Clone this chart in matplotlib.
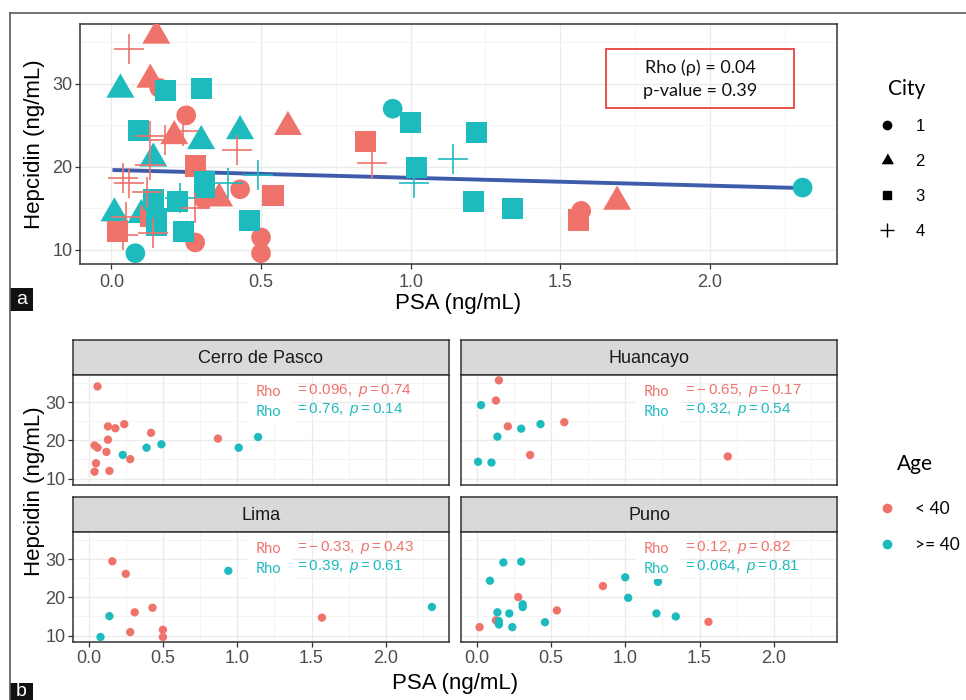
import numpy as np
import matplotlib
matplotlib.use("Agg")
import matplotlib.pyplot as plt
from matplotlib.lines import Line2D
from matplotlib.patches import Rectangle

plt.rcParams['font.family'] = ['Liberation Sans', 'DejaVu Sans']
plt.rcParams['mathtext.fontset'] = 'custom'
plt.rcParams['mathtext.rm'] = 'Liberation Sans'
plt.rcParams['mathtext.it'] = 'Liberation Sans:italic'

W, H = 966, 700
red = '#EF736B'
teal = '#1DBBBE'
calib = ['Lato', 'DejaVu Sans']

# city 1 = Lima, 2 = Huancayo, 3 = Puno, 4 = Cerro de Pasco
# old: 1 means age >= 40
lima_psa = [0.16, 0.25, 0.94, 0.43, 0.31, 0.14, 0.28, 0.50, 0.50, 0.08, 1.57, 2.31]
lima_hep = [29.5, 26.2, 27.0, 17.3, 16.1, 15.1, 10.9, 11.5, 9.6, 9.6, 14.7, 17.5]
lima_old = [0, 0, 1, 0, 0, 1, 0, 0, 0, 1, 0, 1]

huan_psa = [0.15, 0.13, 0.03, 0.21, 0.30, 0.43, 0.59, 0.14, 0.36, 0.01, 0.10, 1.69]
huan_hep = [35.8, 30.5, 29.3, 23.7, 23.1, 24.3, 24.8, 21.0, 16.2, 14.4, 14.2, 15.8]
huan_old = [0, 0, 1, 0, 1, 1, 0, 1, 0, 1, 1, 0]

puno_psa = [0.18, 0.30, 0.09, 1.00, 1.22, 0.85, 0.28, 1.02, 0.31, 0.31, 0.54,
            0.14, 0.22, 0.13, 0.15, 0.15, 1.21, 1.34, 0.46, 0.24, 0.02, 1.56]
puno_hep = [29.2, 29.4, 24.4, 25.3, 24.1, 23.0, 20.1, 19.9, 18.2, 17.5, 16.6,
            16.1, 15.8, 14.0, 13.8, 12.9, 15.8, 15.0, 13.5, 12.2, 12.2, 13.6]
puno_old = [1, 1, 1, 1, 1, 0, 0, 1, 1, 1, 0, 1, 1, 0, 1, 1, 1, 1, 1, 1, 0, 0]

cdp_psa = [0.06, 0.13, 0.18, 0.24, 0.13, 0.04, 0.06, 0.12, 0.23, 0.28, 0.05,
           0.04, 0.14, 0.42, 0.39, 0.49, 0.87, 1.01, 1.14]
cdp_hep = [34.2, 23.7, 23.2, 24.3, 20.2, 18.7, 18.1, 17.0, 16.2, 15.1, 14.0,
           11.8, 12.0, 22.0, 18.1, 19.0, 20.5, 18.1, 20.9]
cdp_old = [0, 0, 0, 0, 0, 0, 0, 0, 1, 0, 0, 0, 0, 0, 1, 1, 0, 1, 1]

cities = {
    1: (lima_psa, lima_hep, lima_old),
    2: (huan_psa, huan_hep, huan_old),
    3: (puno_psa, puno_hep, puno_old),
    4: (cdp_psa, cdp_hep, cdp_old),
}

# facets: name, city, rho labels (red, teal)
facets = [
    ('Cerro de Pasco', 4, r'$=0.096,\ p=0.74$', r'$=0.76,\ p=0.14$'),
    ('Huancayo', 2, r'$=-\,0.65,\ p=0.17$', r'$=0.32,\ p=0.54$'),
    ('Lima', 1, r'$=-\,0.33,\ p=0.43$', r'$=0.39,\ p=0.61$'),
    ('Puno', 3, r'$=0.12,\ p=0.82$', r'$=0.064,\ p=0.81$'),
]

fig = plt.figure(figsize=(W / 100, H / 100), dpi=100)


def box(x0, y0, x1, y1):
    return fig.add_axes([x0 / W, 1 - y1 / H, (x1 - x0) / W, (y1 - y0) / H])


def style(ax, xlab=True, ylab=True):
    ax.set_xlim(-0.105, 2.425)
    ax.set_ylim(8.3, 37.2)
    ax.set_xticks([0, 0.5, 1, 1.5, 2])
    ax.set_xticks([0.25, 0.75, 1.25, 1.75, 2.25], minor=True)
    ax.set_yticks([10, 20, 30])
    ax.set_yticks([15, 25, 35], minor=True)
    ax.grid(which='major', color='#EBEBEB', lw=1.0)
    ax.grid(which='minor', color='#F3F3F3', lw=0.6)
    ax.set_axisbelow(True)
    for s in ax.spines.values():
        s.set_color('#333333')
        s.set_linewidth(1.1)
    ax.tick_params(which='minor', length=0)
    ax.tick_params(which='major', length=3.5, width=0.9, color='#333333',
                   labelcolor='#4D4D4D', labelsize=13, pad=2)
    if not xlab:
        ax.tick_params(axis='x', which='major', length=0, labelbottom=False)
    if not ylab:
        ax.tick_params(axis='y', which='major', length=0, labelleft=False)


# ---- panel a ----
ax = box(80, 24, 837, 264)
style(ax)
ax.tick_params(axis='x', pad=4)

all_psa = np.concatenate([cities[c][0] for c in cities])
all_hep = np.concatenate([cities[c][1] for c in cities])
fit = np.polyfit(all_psa, all_hep, 1)
xs = np.array([all_psa.min(), all_psa.max()])
ax.plot(xs, np.polyval(fit, xs), color='#3F5CAB', lw=2.8, zorder=2)

tri = [(-1, -0.577), (1, -0.577), (0, 1.155)]
shapes = {1: ('o', 200), 2: (tri, 540), 3: ('s', 230), 4: ('+', 460)}
for c in [1, 2, 3, 4]:
    psa, hep, old = [np.array(v) for v in cities[c]]
    m, s = shapes[c]
    for flag, col in [(0, red), (1, teal)]:
        sel = old == flag
        if c == 4:
            ax.scatter(psa[sel], hep[sel], marker=m, s=s, color=col,
                       linewidths=1.2, zorder=3 + c)
        else:
            ax.scatter(psa[sel], hep[sel], marker=m, s=s, color=col,
                       edgecolors='none', zorder=3 + c)

fig.add_artist(Rectangle((606 / W, 1 - 108 / H), 188 / W, 59 / H,
                         transform=fig.transFigure, fill=False,
                         edgecolor='#E8413B', lw=1.3))
fig.text(700 / W, 1 - 68 / H, 'Rho (ρ) = 0.04', ha='center', va='center',
         fontsize=13, family=calib, color='#111111')
fig.text(700 / W, 1 - 91 / H, 'p-value = 0.39', ha='center', va='center',
         fontsize=13, family=calib, color='#111111')

fig.text(35 / W, 1 - 144 / H, 'Hepcidin (ng/mL)', rotation=90,
         ha='center', va='center', fontsize=16)
fig.text(458 / W, 1 - 303 / H, 'PSA (ng/mL)', ha='center', va='center',
         fontsize=16)

city_handles = [
    Line2D([], [], ls='', marker='o', color='black', ms=6),
    Line2D([], [], ls='', marker=tri, color='black', ms=9),
    Line2D([], [], ls='', marker='s', color='black', ms=6),
    Line2D([], [], ls='', marker='+', color='black', ms=10, mew=1.0),
]
fig.text(888 / W, 1 - 89 / H, 'City', ha='left', va='center', fontsize=15,
         family=calib)
fig.legend(city_handles, ['1', '2', '3', '4'],
           loc='upper left', bbox_to_anchor=(862 / W, 1 - 104 / H),
           frameon=False, fontsize=12, labelspacing=1.19,
           handlelength=1.2, handletextpad=1.1)

# ---- panel b ----
cols = [(73, 449), (461, 837)]
rows = [(340, 375, 485), (497, 532, 642)]
for i, (name, c, lab_r, lab_t) in enumerate(facets):
    r, k = divmod(i, 2)
    x0, x1 = cols[k]
    s0, p0, p1 = rows[r]
    st = box(x0, s0, x1, p0)
    st.set_facecolor('#D9D9D9')
    st.set_xticks([])
    st.set_yticks([])
    for s in st.spines.values():
        s.set_color('#333333')
        s.set_linewidth(1.1)
    st.text(0.5, 0.48, name, ha='center', va='center', fontsize=13,
            color='#1A1A1A', transform=st.transAxes)

    ax = box(x0, p0, x1, p1)
    style(ax, xlab=(r == 1), ylab=(k == 0))
    psa, hep, old = [np.array(v) for v in cities[c]]
    for flag, col in [(0, red), (1, teal)]:
        sel = old == flag
        ax.scatter(psa[sel], hep[sel], s=36, color=col, edgecolors='none',
                   zorder=3)
    ax.add_patch(Rectangle((0.463, 0.573), 0.122, 0.41,
                           transform=ax.transAxes, facecolor='white',
                           edgecolor='none', zorder=4))
    ax.text(0.487, 0.845, 'Rho', color=red, fontsize=10.5, family=calib,
            va='center', transform=ax.transAxes, zorder=5)
    ax.text(0.487, 0.66, 'Rho', color=teal, fontsize=10.5, family=calib,
            va='center', transform=ax.transAxes, zorder=5)
    ax.text(0.59, 0.86, lab_r, color=red, fontsize=11, va='center',
            transform=ax.transAxes, zorder=5)
    ax.text(0.59, 0.69, lab_t, color=teal, fontsize=11, va='center',
            transform=ax.transAxes, zorder=5)

fig.text(35 / W, 1 - 491 / H, 'Hepcidin (ng/mL)', rotation=90,
         ha='center', va='center', fontsize=16)
fig.text(455 / W, 1 - 684 / H, 'PSA (ng/mL)', ha='center', va='center',
         fontsize=16)

age_handles = [
    Line2D([], [], ls='', marker='o', color=red, ms=6),
    Line2D([], [], ls='', marker='o', color=teal, ms=6),
]
fig.text(897 / W, 1 - 464 / H, 'Age', ha='left', va='center', fontsize=15,
         family=calib)
leg2 = fig.legend(age_handles, ['< 40', '>= 40'],
                  loc='upper left', bbox_to_anchor=(861 / W, 1 - 485 / H),
                  frameon=False, fontsize=12.5, labelspacing=1.15,
                  handlelength=1.2, handletextpad=1.0)
for t in leg2.get_texts():
    t.set_family(calib)

# outer frame and panel tags
fig.add_artist(Line2D([10 / W, 10 / W], [0, 1 - 13 / H], color='#5A5A5A',
                      lw=1.2, transform=fig.transFigure))
fig.add_artist(Line2D([10 / W, 1], [1 - 13 / H, 1 - 13 / H], color='#5A5A5A',
                      lw=1.2, transform=fig.transFigure))
for tag, y0, y1 in [('a', 288, 311), ('b', 683, 700)]:
    fig.add_artist(Rectangle((10 / W, 1 - y1 / H), 23 / W, (y1 - y0) / H,
                             transform=fig.transFigure, facecolor='#111111',
                             edgecolor='none'))
    fig.text(21.5 / W, 1 - (y0 + y1) / 2 / H, tag, color='white',
             ha='center', va='center', fontsize=14)

fig.savefig('out.png', dpi=100)
